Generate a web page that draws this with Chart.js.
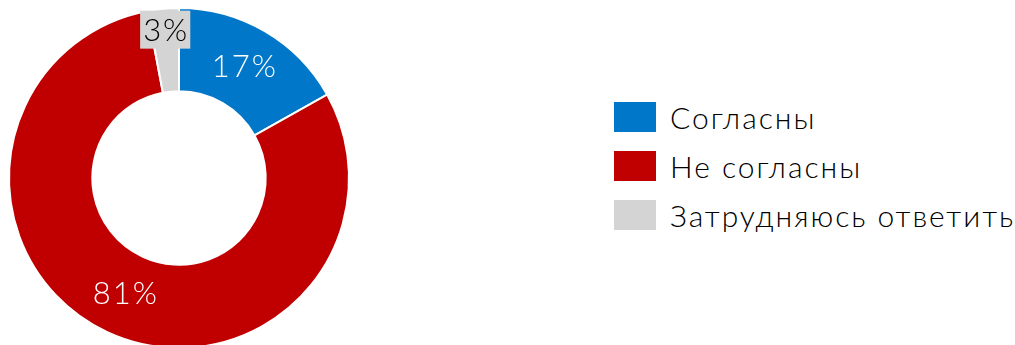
<!DOCTYPE html>
<html>
<head>
<meta charset="utf-8">
<script src="https://cdn.jsdelivr.net/npm/chart.js@4.4.0/dist/chart.umd.min.js"></script>
<style>
  html, body { margin:0; padding:0; background:#fff; width:1015px; height:345px; overflow:hidden; }
  #wrap { position:absolute; left:0; top:0; width:358px; height:356px; }
  #legend { position:absolute; left:614px; top:92px; font-family:'Lato', sans-serif; font-weight:300; font-size:30px; letter-spacing:2px; color:#000; }
  #legend div { display:flex; align-items:center; height:49px; white-space:nowrap; }
  #legend span.box { display:inline-block; width:42px; height:30px; margin-right:14px; }
</style>
</head>
<body>
<div id="wrap"><canvas id="c"></canvas></div>
<div id="legend"></div>
<script>
const categories = ['Согласны', 'Не согласны', 'Затрудняюсь ответить'];
const shares = [17, 81, 3];
const colors = ['#0077C8', '#C00000', '#D4D4D4'];
const labelColors = ['#fff', '#fff', '#000'];

// draws "NN%" on each slice, the small one pushed out with a grey box
const sliceLabels = {
  id:'sliceLabels',
  afterDatasetsDraw(chart){
    const ctx = chart.ctx;
    const meta = chart.getDatasetMeta(0);
    ctx.save();
    ctx.font = '300 31px Lato, sans-serif';
    ctx.letterSpacing = '2px';
    ctx.textAlign = 'center';
    ctx.textBaseline = 'middle';
    meta.data.forEach((arc, i) => {
      const p = arc.getProps(['x','y','startAngle','endAngle','innerRadius','outerRadius']);
      const mid = (p.startAngle + p.endAngle) / 2;
      const small = shares[i] < 5;
      const r = small ? p.outerRadius - 22 : (p.innerRadius + p.outerRadius) / 2;
      const x = p.x + Math.cos(mid) * r, y = p.y + Math.sin(mid) * r;
      const txt = shares[i] + '%';
      if (small) {
        const w = ctx.measureText(txt).width + 4;
        ctx.fillStyle = colors[i];
        ctx.fillRect(x - w/2, y - 20, w, 38);
      }
      ctx.fillStyle = labelColors[i];
      ctx.fillText(txt, x + 1, y);
    });
    ctx.restore();
  }
};

const chart = new Chart(document.getElementById('c'), {
  type:'doughnut',
  data:{ labels:categories, datasets:[{ data:shares, backgroundColor:colors, borderColor:'#fff', borderWidth:2 }]},
  options:{
    responsive:true, maintainAspectRatio:false, animation:false,
    cutout:'51%',
    layout:{ padding:{ left:8, right:8, top:7, bottom:7 } },
    plugins:{ legend:{ display:false }, tooltip:{ enabled:false } }
  },
  plugins:[sliceLabels]
});

const legend = document.getElementById('legend');
chart.options.plugins.legend.labels.generateLabels(chart).forEach(item => {
  const row = document.createElement('div');
  row.innerHTML = '<span class="box" style="background:' + item.fillStyle + '"></span>' + item.text;
  legend.appendChild(row);
});
</script>
</body>
</html>
